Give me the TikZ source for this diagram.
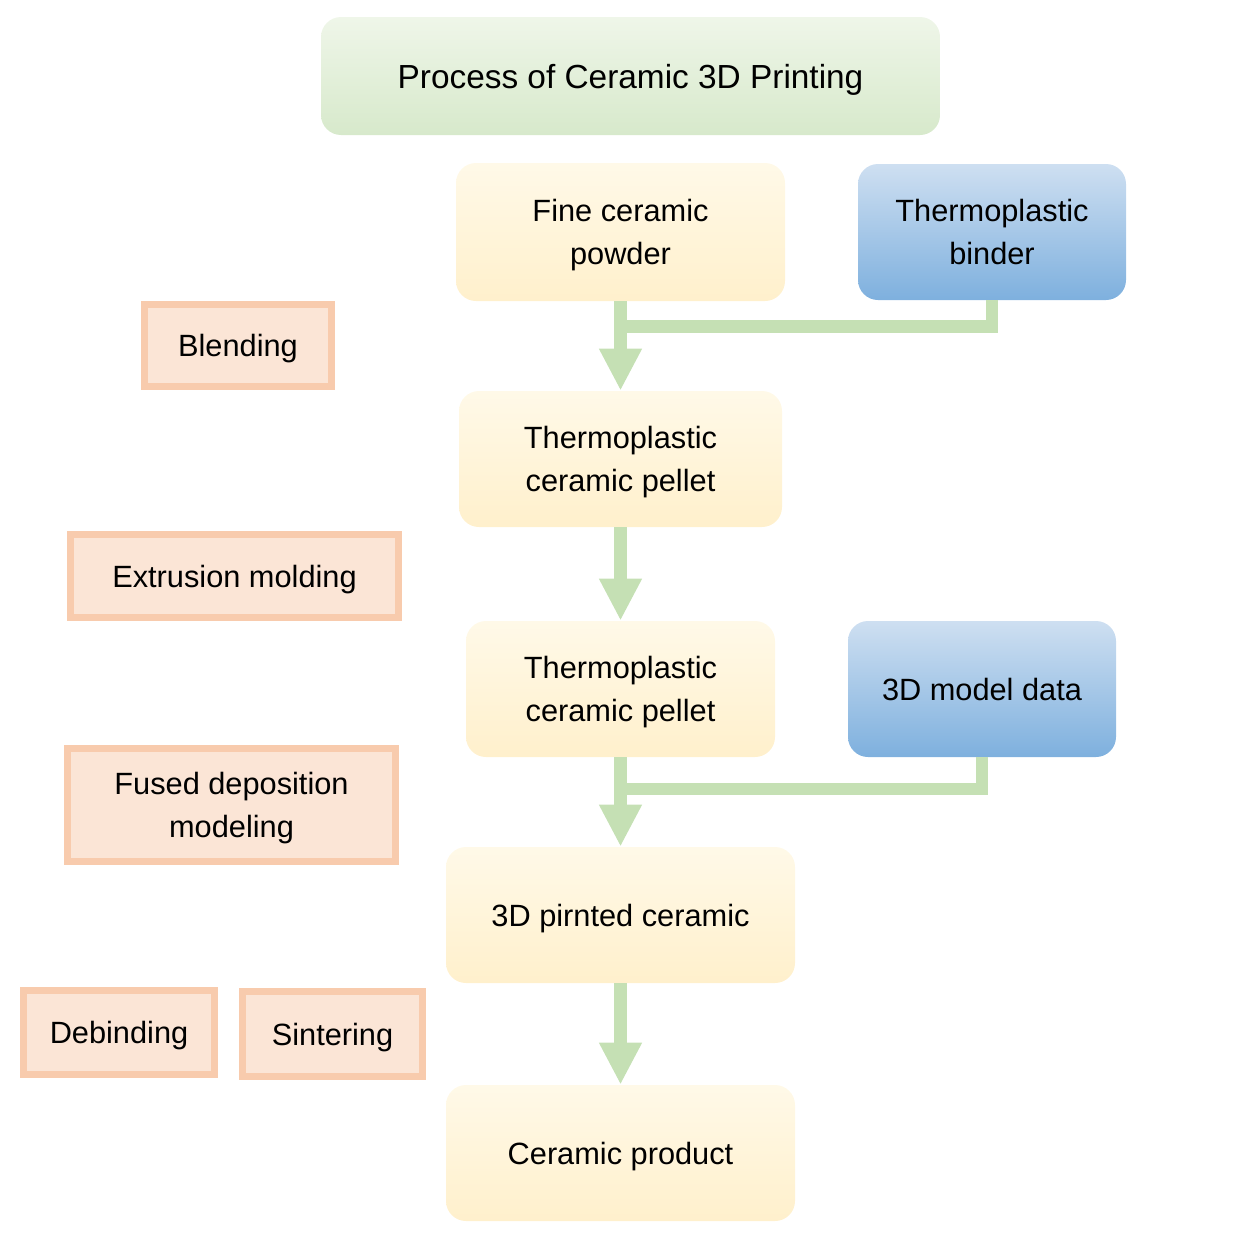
\documentclass[tikz,border=0pt]{standalone}
\usepackage{fontspec}
\setmainfont{Liberation Sans}
\usetikzlibrary{positioning, arrows.meta}

\definecolor{flowgreen}{RGB}{197,224,180}
\definecolor{creamtop}{RGB}{255,249,232}
\definecolor{creambot}{RGB}{255,240,204}
\definecolor{bluetop}{RGB}{206,223,241}
\definecolor{bluebot}{RGB}{126,176,222}
\definecolor{greentop}{RGB}{239,246,233}
\definecolor{greenbot}{RGB}{215,233,203}
\definecolor{stepline}{RGB}{248,203,173}
\definecolor{stepfill}{RGB}{251,229,214}

\begin{document}
\begin{tikzpicture}[node distance=4.5cm,on grid,
    boxtext/.style={align=center, text depth=0pt, font=\fontsize{17.5}{24.5}\selectfont},
    stage/.style={boxtext, rounded corners=0.4cm, top color=creamtop, bottom color=creambot, minimum height=2.72cm},
    source/.style={boxtext, rounded corners=0.4cm, top color=bluetop, bottom color=bluebot, minimum width=5.36cm, minimum height=2.72cm},
    process/.style={boxtext, draw=stepline, fill=stepfill, line width=0.14cm},
    flow/.style={draw=flowgreen, line width=0.25cm},
    flowarrow/.style={flow, -{Triangle[width=0.8cm,length=0.84cm]}, color=flowgreen}]
    \useasboundingbox (0,0) rectangle (24.98,-25.14);

    \node[boxtext, rounded corners=0.4cm, top color=greentop, bottom color=greenbot,
          minimum width=12.38cm, minimum height=2.36cm, font=\fontsize{19}{24}\selectfont]
          (title) at (12.61,-1.52) {Process of Ceramic 3D Printing};

    \node[stage, minimum width=6.58cm, minimum height=2.76cm] (powder) at (12.41,-4.64) {Fine ceramic\\powder};
    \node[source] (binder) [right=7.43cm of powder] {Thermoplastic\\binder};
    \node[stage, minimum width=6.46cm] (pellet_1) [below=4.54cm of powder] {Thermoplastic\\ceramic pellet};
    \node[stage, minimum width=6.18cm] (pellet_2) [below=4.6cm of pellet_1] {Thermoplastic\\ceramic pellet};
    \node[source] (model) [right=7.23cm of pellet_2] {3D model data};
    \node[stage, minimum width=6.98cm] (printed) [below=4.52cm of pellet_2] {3D pirnted ceramic};
    \node[stage, minimum width=6.98cm] (product) [below=4.76cm of printed] {Ceramic product};

    % process steps on the left
    \node[process, minimum width=3.74cm, minimum height=1.64cm] (blending) at (4.76,-6.91) {Blending};
    \node[process, minimum width=6.56cm, minimum height=1.66cm] (extrusion) at (4.69,-11.52) {Extrusion molding};
    \node[process, minimum width=6.56cm, minimum height=2.26cm] (fdm) at (4.63,-16.1) {Fused deposition\\modeling};
    \node[process, minimum width=3.82cm, minimum height=1.68cm] (debinding) at (2.38,-20.65) {Debinding};
    \node[process, minimum width=3.6cm, minimum height=1.7cm] (sintering) at (6.65,-20.68) {Sintering};

    % flow
    \coordinate (join_1) at (12.41,-6.53);
    \coordinate (join_2) at (12.45,-15.78);
    \path[flow] (binder.south) |- (join_1);
    \path[flow] (model.south) |- (join_2);
    \draw[flowarrow] (powder.south) -- (pellet_1.north);
    \draw[flowarrow] (pellet_1.south) -- (pellet_2.north);
    \draw[flowarrow] (pellet_2.south) -- (printed.north);
    \draw[flowarrow] (printed.south) -- (product.north);
\end{tikzpicture}
\end{document}
